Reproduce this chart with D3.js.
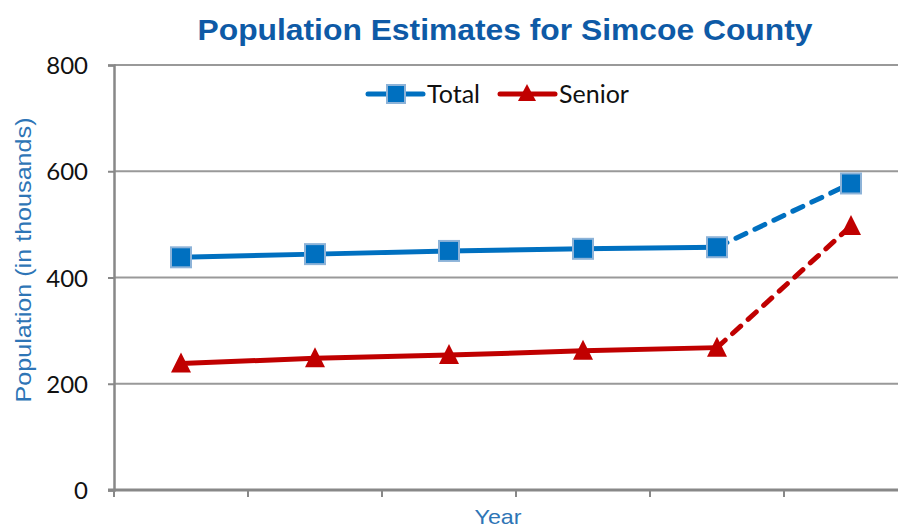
<!DOCTYPE html>
<html>
<head>
<meta charset="utf-8">
<script src="https://cdn.jsdelivr.net/npm/d3@7"></script>
<style>
  html, body { margin: 0; padding: 0; background: #fff; overflow: hidden; }
</style>
</head>
<body>
<div id="viz"></div>
<script>
    // years are not labelled on the chart, so categories are just indexes
    const categories = ["1", "2", "3", "4", "5", "6"];
    const totalValues = [438, 444, 450, 454, 457, 577];
    const seniorValues = [238, 248, 254, 262, 268, 497];
    const yTicks = [0, 200, 400, 600, 800];

    const width = 898;
    const height = 529;
    const margin = { top: 65, right: -20, bottom: 39, left: 114 };

    const blue = "#0070c0";
    const red = "#c00000";
    const gridColor = "#999999";
    const labelFont = "Lato, 'Open Sans', sans-serif";

    const svg = d3.select("#viz")
        .append("svg")
        .attr("width", width)
        .attr("height", height);

    const x = d3.scaleBand()
        .domain(categories)
        .range([margin.left, width - margin.right]);

    const y = d3.scaleLinear()
        .domain([0, 800])
        .range([height - margin.bottom, margin.top]);

    //Gridlines
    svg.append("g")
        .selectAll("line")
        .data(yTicks.slice(1))
        .join("line")
        .attr("x1", margin.left)
        .attr("x2", width)
        .attr("y1", d => y(d))
        .attr("y2", d => y(d))
        .attr("stroke", gridColor)
        .attr("stroke-width", 2);

    //Y axis
    const yAxisG = svg.append("g")
        .attr("transform", `translate(${margin.left},0)`)
        .call(d3.axisLeft(y).tickValues(yTicks).tickSize(6).tickPadding(20));
    yAxisG.select(".domain").attr("stroke", "#888").attr("stroke-width", 2.5);
    yAxisG.selectAll(".tick line").attr("stroke", "#888").attr("stroke-width", 2);
    yAxisG.selectAll(".tick text")
        .attr("fill", "#111")
        .attr("dy", "0.36em")
        .style("font", `24px ${labelFont}`);

    //X axis, ticks between the categories, no labels
    const xAxisG = svg.append("g")
        .attr("transform", `translate(0,${y(0)})`);
    xAxisG.append("line")
        .attr("x1", margin.left - 6)
        .attr("x2", width)
        .attr("stroke", "#888")
        .attr("stroke-width", 3);
    xAxisG.selectAll(".xtick")
        .data(categories)
        .join("line")
        .attr("class", "xtick")
        .attr("x1", d => x(d))
        .attr("x2", d => x(d))
        .attr("y1", 0)
        .attr("y2", 7)
        .attr("stroke", "#888")
        .attr("stroke-width", 2);

    const cx = d => x(d) + x.bandwidth() / 2;

    function drawSeries(values, color, marker) {
        const pts = categories.map((c, i) => [cx(c), y(values[i])]);
        const line = d3.line();
        const n = pts.length;
        svg.append("path")
            .attr("d", line(pts.slice(0, n - 1)))
            .attr("fill", "none")
            .attr("stroke", color)
            .attr("stroke-width", 5);
        // last segment is a projection, dashed
        svg.append("path")
            .attr("d", line(pts.slice(n - 2)))
            .attr("fill", "none")
            .attr("stroke", color)
            .attr("stroke-width", 5)
            .attr("stroke-linecap", "round")
            .attr("stroke-dasharray", "11 10");
        const g = svg.append("g");
        pts.forEach(p => marker(g, p[0], p[1]));
    }

    function square(g, px, py) {
        g.append("rect")
            .attr("x", px - 10)
            .attr("y", py - 10)
            .attr("width", 20)
            .attr("height", 20)
            .attr("fill", blue)
            .attr("stroke", "#8db3d8")
            .attr("stroke-width", 2);
    }

    function triangle(g, px, py) {
        g.append("path")
            .attr("d", `M${px},${py - 11}L${px + 10},${py + 9}L${px - 10},${py + 9}Z`)
            .attr("fill", red);
    }

    drawSeries(totalValues, blue, square);
    drawSeries(seniorValues, red, triangle);

    //Legend
    const legendY = 94;
    const legend = svg.append("g");
    [[368, blue, "Total"], [500, red, "Senior"]].forEach(([lx, color, label]) => {
        legend.append("line")
            .attr("x1", lx)
            .attr("x2", lx + 55)
            .attr("y1", legendY)
            .attr("y2", legendY)
            .attr("stroke", color)
            .attr("stroke-width", 5)
            .attr("stroke-linecap", "round");
        if (label == "Total") {
            legend.append("rect")
                .attr("x", lx + 28 - 9).attr("y", legendY - 9)
                .attr("width", 18).attr("height", 18)
                .attr("fill", blue).attr("stroke", "#8db3d8").attr("stroke-width", 2);
        } else {
            legend.append("path")
                .attr("d", `M${lx + 27},${legendY - 10}L${lx + 36},${legendY + 7}L${lx + 18},${legendY + 7}Z`)
                .attr("fill", red);
        }
        legend.append("text")
            .attr("x", lx + 59)
            .attr("y", legendY + 9)
            .attr("fill", "#111")
            .style("font", `25px ${labelFont}`)
            .text(label);
    });

    //Title
    svg.append("text")
        .attr("x", 505)
        .attr("y", 40)
        .attr("text-anchor", "middle")
        .attr("fill", "#0e5aa6")
        .attr("textLength", 615)
        .attr("lengthAdjust", "spacingAndGlyphs")
        .style("font", "bold 30px 'Liberation Sans', Arial, sans-serif")
        .text("Population Estimates for Simcoe County");

    //Axis titles
    svg.append("text")
        .attr("transform", `translate(31,260) rotate(-90)`)
        .attr("text-anchor", "middle")
        .attr("fill", "#2e75b6")
        .attr("textLength", 285)
        .attr("lengthAdjust", "spacingAndGlyphs")
        .style("font", "22px 'Liberation Sans', sans-serif")
        .text("Population (in thousands)");

    svg.append("text")
        .attr("x", 498)
        .attr("y", 524)
        .attr("text-anchor", "middle")
        .attr("fill", "#2e75b6")
        .attr("textLength", 47)
        .attr("lengthAdjust", "spacingAndGlyphs")
        .style("font", "21px 'Liberation Sans', sans-serif")
        .text("Year");
</script>
</body>
</html>
